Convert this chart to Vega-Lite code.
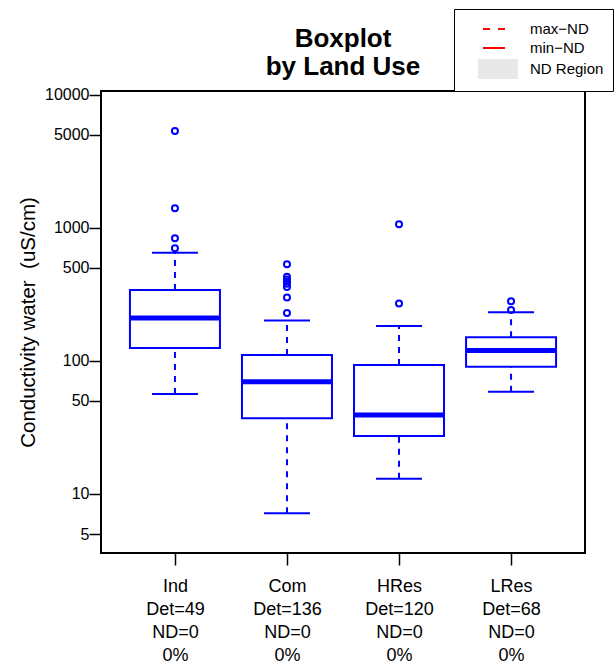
{
  "$schema": "https://vega.github.io/schema/vega-lite/v6.json",
  "width": 484,
  "height": 462,
  "autosize": "none",
  "padding": {"left": 101, "top": 91, "right": 31, "bottom": 117},
  "background": "white",
  "config": {
    "font": "Liberation Sans",
    "view": {"stroke": "black", "strokeWidth": 2},
    "axis": {"grid": false, "domain": false, "tickColor": "black", "tickWidth": 1.5, "tickSize": 12, "labelColor": "black", "titleColor": "black", "labelFont": "Liberation Sans", "titleFont": "Liberation Sans"}
  },
  "title": {
    "text": ["Boxplot", "by Land Use"],
    "font": "Liberation Sans",
    "fontSize": 26,
    "fontWeight": "bold",
    "lineHeight": 28,
    "anchor": "middle",
    "color": "black",
    "offset": 8,
    "dy": 79
  },
  "datasets": {
    "stats": [
      {"grp": "Ind\nDet=49\nND=0\n0%", "lo": 56.5, "q1": 125, "med": 210, "q3": 341, "hi": 652},
      {"grp": "Com\nDet=136\nND=0\n0%", "lo": 7.16, "q1": 37.1, "med": 69.8, "q3": 111, "hi": 201},
      {"grp": "HRes\nDet=120\nND=0\n0%", "lo": 13.0, "q1": 27.3, "med": 39.3, "q3": 93.3, "hi": 183},
      {"grp": "LRes\nDet=68\nND=0\n0%", "lo": 58.8, "q1": 90.6, "med": 120, "q3": 151, "hi": 232}
    ],
    "out": [
      {"grp": "Ind\nDet=49\nND=0\n0%", "v": 703},
      {"grp": "Ind\nDet=49\nND=0\n0%", "v": 838},
      {"grp": "Ind\nDet=49\nND=0\n0%", "v": 1406},
      {"grp": "Ind\nDet=49\nND=0\n0%", "v": 5360},
      {"grp": "Com\nDet=136\nND=0\n0%", "v": 229},
      {"grp": "Com\nDet=136\nND=0\n0%", "v": 300},
      {"grp": "Com\nDet=136\nND=0\n0%", "v": 360},
      {"grp": "Com\nDet=136\nND=0\n0%", "v": 380},
      {"grp": "Com\nDet=136\nND=0\n0%", "v": 395},
      {"grp": "Com\nDet=136\nND=0\n0%", "v": 410},
      {"grp": "Com\nDet=136\nND=0\n0%", "v": 430},
      {"grp": "Com\nDet=136\nND=0\n0%", "v": 533},
      {"grp": "HRes\nDet=120\nND=0\n0%", "v": 270},
      {"grp": "HRes\nDet=120\nND=0\n0%", "v": 1066},
      {"grp": "LRes\nDet=68\nND=0\n0%", "v": 242},
      {"grp": "LRes\nDet=68\nND=0\n0%", "v": 281}
    ],
    "legend": [
      {"nd": "max−ND"},
      {"nd": "min−ND"},
      {"nd": "ND Region"}
    ]
  },
  "encoding": {
    "x": {
      "field": "grp",
      "type": "nominal",
      "sort": null,
      "scale": {"type": "point", "padding": 0.66, "domain": ["Ind\nDet=49\nND=0\n0%", "Com\nDet=136\nND=0\n0%", "HRes\nDet=120\nND=0\n0%", "LRes\nDet=68\nND=0\n0%"]},
      "axis": {"title": null, "labelAngle": 0, "labelFontSize": 18, "labelLineHeight": 23, "labelPadding": 12, "labelExpr": "split(datum.value, '\\n')", "labelBaseline": "top"}
    }
  },
  "layer": [
    {
      "data": {"name": "stats"},
      "mark": {"type": "rule", "color": "#0000FF", "opacity": 1, "strokeWidth": 2, "strokeDash": [6, 6]},
      "encoding": {
        "y": {"field": "lo", "type": "quantitative", "scale": {"type": "log", "domain": [3.6, 10700], "nice": false, "zero": false},
          "axis": {"title": "Conductivity water \u00a0(uS/cm)", "titleFontSize": 20.5, "titleFontWeight": "normal", "titlePadding": 6, "values": [5, 10, 50, 100, 500, 1000, 5000, 10000], "format": "d", "labelFontSize": 16, "labelPadding": 0}},
        "y2": {"field": "q1"}
      }
    },
    {
      "data": {"name": "stats"},
      "mark": {"type": "rule", "color": "#0000FF", "opacity": 1, "strokeWidth": 2, "strokeDash": [6, 6]},
      "encoding": {
        "y": {"field": "q3", "type": "quantitative"},
        "y2": {"field": "hi"}
      }
    },
    {
      "data": {"name": "stats"},
      "mark": {"type": "tick", "color": "#0000FF", "opacity": 1, "size": 46, "thickness": 2, "orient": "horizontal"},
      "encoding": {"y": {"field": "lo", "type": "quantitative"}}
    },
    {
      "data": {"name": "stats"},
      "mark": {"type": "tick", "color": "#0000FF", "opacity": 1, "size": 46, "thickness": 2, "orient": "horizontal"},
      "encoding": {"y": {"field": "hi", "type": "quantitative"}}
    },
    {
      "data": {"name": "stats"},
      "mark": {"type": "bar", "fill": "white", "stroke": "#0000FF", "opacity": 1, "strokeWidth": 2, "size": 90},
      "encoding": {
        "y": {"field": "q1", "type": "quantitative"},
        "y2": {"field": "q3"}
      }
    },
    {
      "data": {"name": "stats"},
      "mark": {"type": "tick", "color": "#0000FF", "opacity": 1, "size": 90, "thickness": 5, "orient": "horizontal"},
      "encoding": {"y": {"field": "med", "type": "quantitative"}}
    },
    {
      "data": {"name": "out"},
      "mark": {"type": "point", "shape": "circle", "filled": false, "color": "#0000FF", "size": 36, "strokeWidth": 2, "opacity": 1},
      "encoding": {"y": {"field": "v", "type": "quantitative"}}
    },
    {
      "data": {"name": "legend"},
      "mark": {"type": "point", "opacity": 0, "filled": false},
      "encoding": {
        "x": {"value": 0},
        "y": {"value": 0},
        "stroke": {
          "field": "nd",
          "type": "nominal",
          "scale": {"domain": ["max−ND", "min−ND", "ND Region"], "range": ["red", "red", "#E8E8E8"]},
          "legend": {
            "title": null,
            "orient": "none",
            "legendX": 353,
            "legendY": -82,
            "padding": 9,
            "strokeColor": "black",
            "fillColor": "white",
            "labelFontSize": 15,
            "labelColor": "black",
            "labelOffset": 45,
            "symbolSize": 400,
            "symbolStrokeWidth": 2,
            "rowPadding": 0,
            "symbolOpacity": 1
          }
        },
        "shape": {
          "field": "nd",
          "type": "nominal",
          "scale": {"domain": ["max−ND", "min−ND", "ND Region"], "range": ["M0.9,0H3.1", "M0.9,0H3.1", "M0.4,-0.9H4.4M0.4,-0.7H4.4M0.4,-0.5H4.4M0.4,-0.3H4.4M0.4,-0.1H4.4M0.4,0.1H4.4M0.4,0.3H4.4M0.4,0.5H4.4M0.4,0.7H4.4M0.4,0.9H4.4"]}
        },
        "strokeDash": {
          "field": "nd",
          "type": "nominal",
          "scale": {"domain": ["max−ND", "min−ND", "ND Region"], "range": [[7, 8], [1, 0], [1, 0]]}
        }
      }
    }
  ]
}
